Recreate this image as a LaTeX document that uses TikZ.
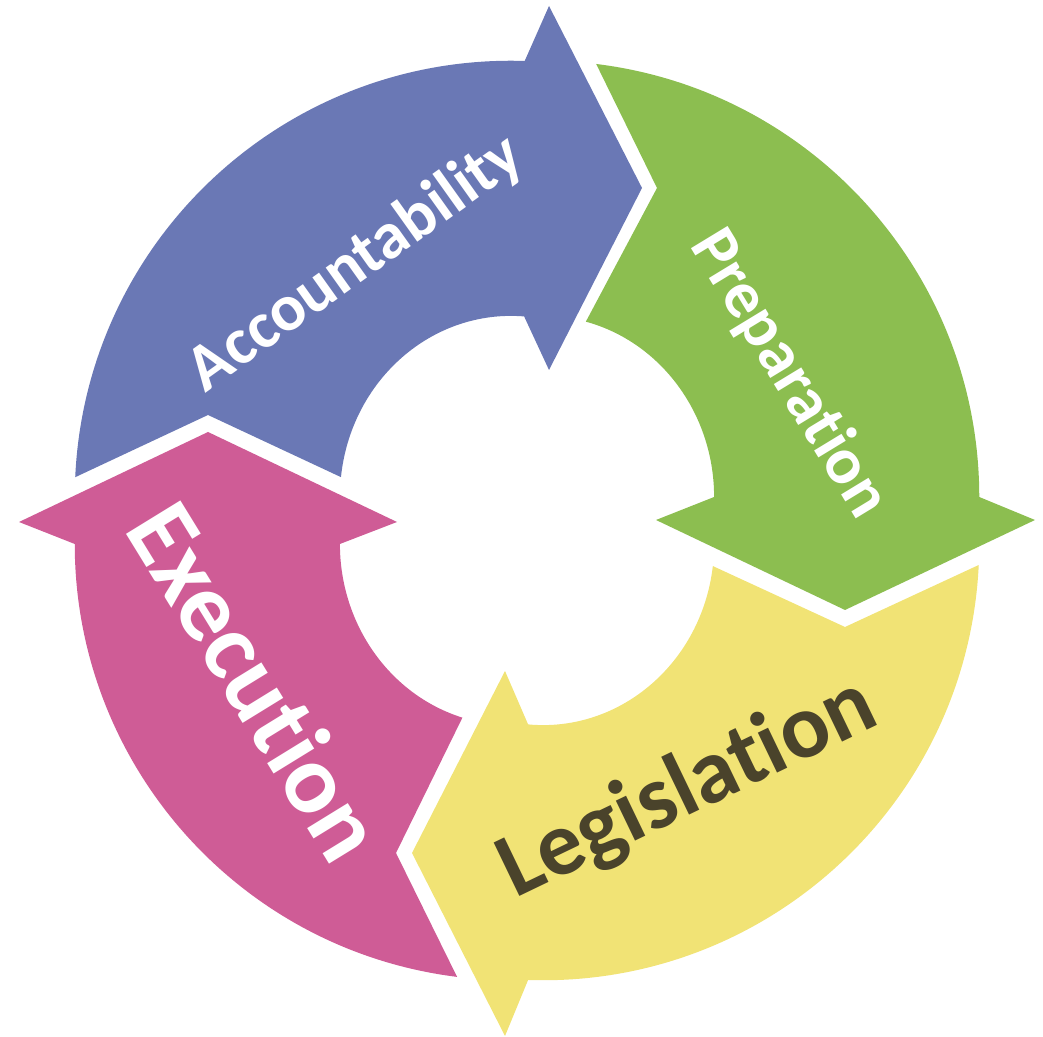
\documentclass[tikz,border=0pt]{standalone}
\usepackage{fontspec}
\setmainfont{Carlito}[Ligatures={NoCommon,NoContextual}]
\usetikzlibrary{calc}
\definecolor{cblue}{HTML}{6A78B5}
\definecolor{cgreen}{HTML}{8CBE50}
\definecolor{cyellow}{HTML}{F1E375}
\definecolor{cpink}{HTML}{CF5C96}
\definecolor{cdark}{HTML}{4A432B}
\begin{document}
\begin{tikzpicture}[x=0.01cm,y=0.01cm,
  lbl/.style={font=\bfseries, text=white, inner sep=0pt, anchor=center}]
\useasboundingbox (0,0) rectangle (1043,1037);
\coordinate (Cb) at (511,540);
\coordinate (Cg) at (543,540);
\coordinate (Cy) at (543,493);
\coordinate (Cp) at (511,493);
% Accountability (blue)
\fill[cblue] ($(Cb)+(177.4:4.36cm)$) arc[start angle=177.4, end angle=88.2, radius=4.36cm]
  -- (549,1031) -- (642,849) -- (549,667)
  -- ($(Cb)+(85.6:1.71cm and 1.81cm)$) arc[start angle=85.6, end angle=173.7, x radius=1.71cm, y radius=1.81cm]
  -- (208,622) -- cycle;
% Preparation (green)
\fill[cgreen] ($(Cg)+(83.0:4.36cm)$) arc[start angle=83.0, end angle=0, radius=4.36cm]
  -- (1035,517) -- (845,427) -- (656,517)
  -- ($(Cg)+(0:1.71cm and 1.81cm)$) arc[start angle=0, end angle=75.5, x radius=1.71cm, y radius=1.81cm]
  -- (657,849) -- cycle;
% Legislation (yellow)
\fill[cyellow] ($(Cy)+(-2.76:4.36cm)$) arc[start angle=-2.76, end angle=-91.96, radius=4.36cm]
  -- (505,1) -- (412,184) -- (505,366)
  -- ($(Cy)+(-95:1.71cm and 1.81cm)$) arc[start angle=-95, end angle=-7, x radius=1.71cm, y radius=1.81cm]
  -- (845,410) -- cycle;
% Execution (pink)
\fill[cpink] ($(Cp)+(262.9:4.36cm)$) arc[start angle=262.9, end angle=180, radius=4.36cm]
  -- (19,515) -- (208,605) -- (397,515)
  -- ($(Cp)+(180:1.71cm and 1.81cm)$) arc[start angle=180, end angle=253.5, x radius=1.71cm, y radius=1.81cm]
  -- (396,184) -- cycle;
% labels
\node[lbl, font=\fontsize{18.8}{20}\selectfont\bfseries, rotate=35.5] (acc) at (356,773) {Accountability};
\node[lbl, font=\fontsize{18.8}{20}\selectfont\bfseries, rotate=-58.7] (prep) at (789,663) {Preparation};
\node[lbl, font=\fontsize{26}{28}\selectfont\bfseries, text=cdark, rotate=25.7] (leg) at (688,248) {Legislation};
\node[lbl, font=\fontsize{28}{30}\selectfont\bfseries, rotate=-58.4] (exe) at (257,356) {Execution};
\end{tikzpicture}
\end{document}
